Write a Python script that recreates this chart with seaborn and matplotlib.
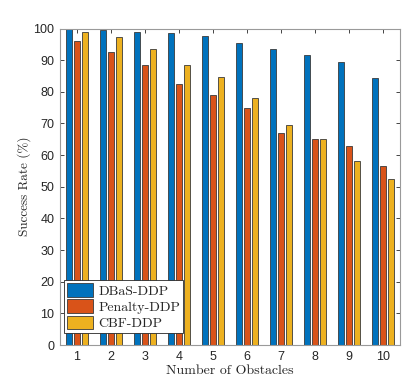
import matplotlib
matplotlib.use("Agg")
import matplotlib.pyplot as plt
import seaborn as sns
import pandas as pd

obstacles = [1, 2, 3, 4, 5, 6, 7, 8, 9, 10]
methods = ["DBaS-DDP", "Penalty-DDP", "CBF-DDP"]
dbas = [100.0, 99.5, 98.8, 98.5, 97.6, 95.3, 93.5, 91.6, 89.4, 84.3]
penalty = [96.0, 92.5, 88.4, 82.4, 79.0, 75.0, 67.1, 65.0, 63.0, 56.6]
cbf = [98.9, 97.2, 93.4, 88.4, 84.8, 78.1, 69.4, 65.0, 58.0, 52.4]
colors = ["#0072BD", "#D95319", "#EDB120"]

rows = []
for m, vals in zip(methods, [dbas, penalty, cbf]):
    for o, v in zip(obstacles, vals):
        rows.append({"Obstacles": o, "Method": m, "Rate": v})
df = pd.DataFrame(rows)

sns.set_style("white")
plt.rcParams["axes.unicode_minus"] = False
serif = "cmr10"
fig = plt.figure(figsize=(4.19, 3.84), dpi=100)
ax = fig.add_axes([60/419, 1-345/384, 340/419, (345-28.5)/384])

sns.barplot(data=df, x="Obstacles", y="Rate", hue="Method", hue_order=methods,
            palette=colors, width=0.7, gap=0.15, edgecolor="#3a3a3a", linewidth=0.6,
            saturation=1, ax=ax)

ax.set_ylim(0, 100)
ax.set_xlim(-0.5, 9.5)
ax.set_yticks(range(0, 101, 10))
ax.set_xticks(range(10))
ax.set_xticklabels([str(o) for o in obstacles])
for lab in ax.get_xticklabels() + ax.get_yticklabels():
    lab.set_fontfamily("Liberation Sans")
    lab.set_fontsize(9)
    lab.set_color("#262626")
ax.tick_params(direction="in", length=3, width=0.6, color="#262626",
               top=True, right=True, bottom=True, left=True, pad=4)
for s in ax.spines.values():
    s.set_color("#9a9a9a")
    s.set_linewidth(0.8)

ax.set_xlabel("Number of Obstacles", fontfamily=serif, fontsize=10, labelpad=2)
ax.set_ylabel("Success Rate (%)", fontfamily=serif, fontsize=9.5, labelpad=1.5)

leg = ax.legend(loc="lower left", bbox_to_anchor=(0.012, 0.038), frameon=True,
                fancybox=False, edgecolor="#262626", framealpha=1,
                prop={"family": serif, "size": 10},
                handlelength=1.9, handleheight=1.15, handletextpad=0.35,
                borderpad=0.2, labelspacing=0.12, borderaxespad=0.0)
leg.get_frame().set_linewidth(0.6)

fig.savefig("out.png", dpi=100)
